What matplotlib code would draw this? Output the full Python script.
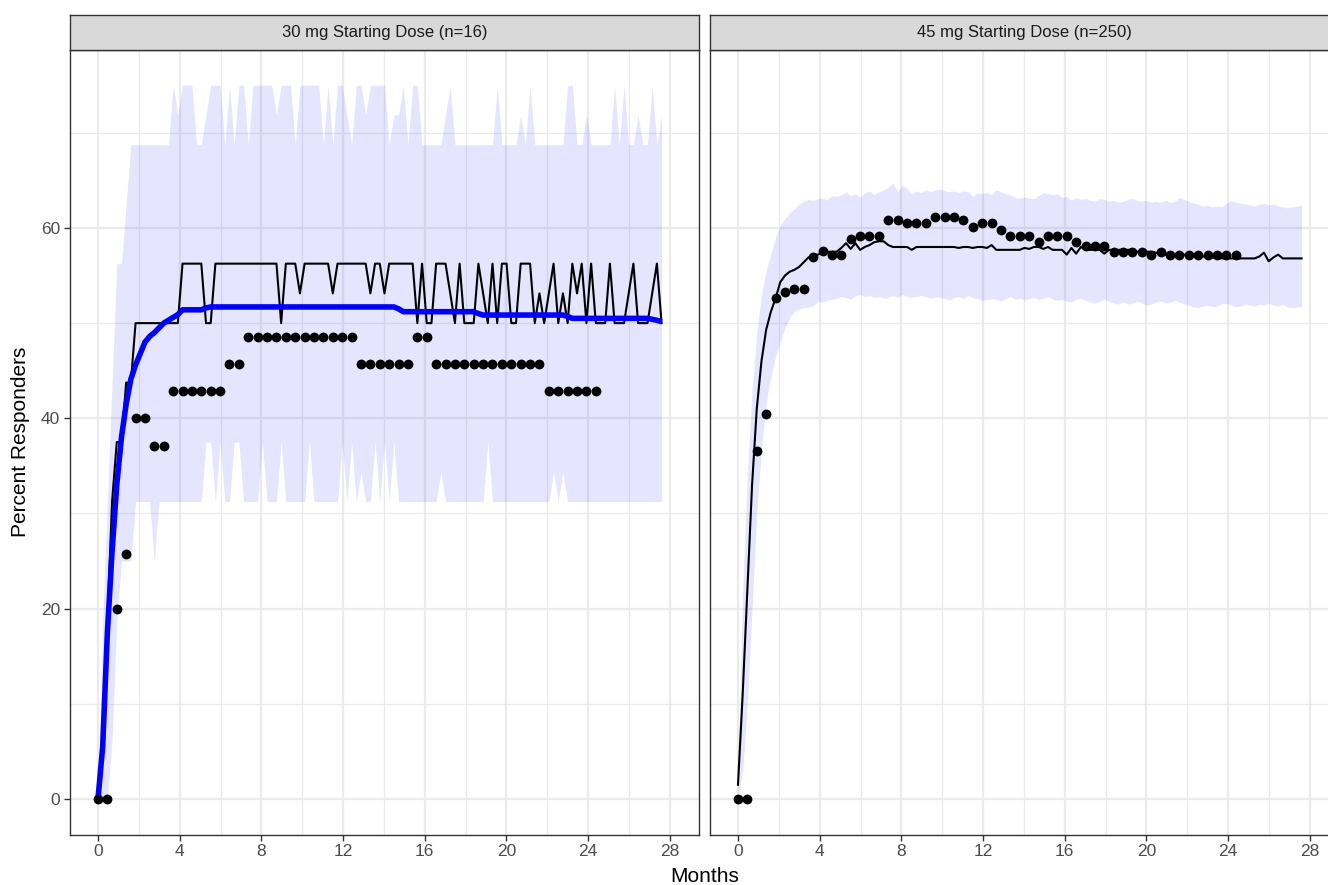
import numpy as np
import matplotlib
matplotlib.use("Agg")
import matplotlib.pyplot as plt
from matplotlib.ticker import MultipleLocator

plt.rcParams['font.family'] = ['Liberation Sans', 'DejaVu Sans']

# ---------------- data ----------------
panel_titles = ["30 mg Starting Dose (n=16)", "45 mg Starting Dose (n=250)"]
x_label = "Months"
y_label = "Percent Responders"
x_ticks = [0, 4, 8, 12, 16, 20, 24, 28]
y_ticks = [0, 20, 40, 60]

# simulation grid (weekly) and observation grid (every 2 weeks), in weeks
sim_weeks = np.arange(0, 121)
obs_weeks = np.arange(0, 107, 2)
days_per_month = 30.4375

left_median = [
    0, 6.25, 18.75, 31.25, 37.5, 37.5, 43.75, 43.75, 50, 50,
    50, 50, 50, 50, 50, 50, 50, 50, 56.25, 56.25,
    56.25, 56.25, 56.25, 50, 50, 56.25, 56.25, 56.25, 56.25, 56.25,
    56.25, 56.25, 56.25, 56.25, 56.25, 56.25, 56.25, 56.25, 56.25, 50,
    56.25, 56.25, 56.25, 53.125, 56.25, 56.25, 56.25, 56.25, 56.25, 56.25,
    53.125, 56.25, 56.25, 56.25, 56.25, 56.25, 56.25, 56.25, 53.125, 56.25,
    56.25, 53.125, 56.25, 56.25, 56.25, 56.25, 56.25, 56.25, 50, 56.25,
    50, 50, 56.25, 56.25, 56.25, 53.125, 50, 56.25, 50, 50,
    50, 56.25, 53.125, 50, 56.25, 50, 56.25, 56.25, 50, 50,
    56.25, 56.25, 56.25, 50, 53.125, 50, 53.125, 56.25, 50, 53.125,
    50, 56.25, 53.125, 56.25, 50, 56.25, 50, 50, 50, 56.25,
    50, 50, 50, 53.125, 56.25, 50, 50, 50, 53.125, 56.25, 50]

left_upper = [
    0, 18.75, 31.25, 43.75, 56.25, 56.25, 62.5, 68.75, 68.75, 68.75,
    68.75, 68.75, 68.75, 68.75, 68.75, 68.75, 75, 71.875, 75, 75,
    75, 68.75, 68.75, 71.875, 75, 75, 75, 68.75, 75, 68.75,
    75, 75, 68.75, 75, 75, 75, 75, 75, 71.875, 75,
    75, 75, 68.75, 75, 75, 75, 75, 75, 68.75, 75,
    68.75, 75, 75, 71.875, 68.75, 75, 75, 71.875, 75, 75,
    75, 75, 68.75, 71.875, 71.875, 75, 68.75, 75, 75, 68.75,
    68.75, 68.75, 68.75, 68.75, 71.875, 75, 68.75, 68.75, 68.75, 68.75,
    68.75, 68.75, 68.75, 68.75, 68.75, 75, 68.75, 68.75, 68.75, 68.75,
    71.875, 68.75, 75, 68.75, 68.75, 68.75, 68.75, 68.75, 68.75, 68.75,
    75, 75, 68.75, 68.75, 71.875, 68.75, 68.75, 68.75, 68.75, 68.75,
    75, 68.75, 75, 68.75, 68.75, 71.875, 68.75, 68.75, 75, 68.75, 71.875]

left_lower = [
    0, 0, 0, 6.25, 18.75, 25, 25, 25, 31.25, 31.25,
    31.25, 31.25, 25, 31.25, 31.25, 31.25, 31.25, 31.25, 31.25, 31.25,
    31.25, 31.25, 31.25, 37.5, 37.5, 31.25, 37.5, 31.25, 31.25, 37.5,
    37.5, 31.25, 31.25, 31.25, 31.25, 37.5, 31.25, 31.25, 31.25, 37.5,
    31.25, 31.25, 31.25, 31.25, 31.25, 37.5, 31.25, 31.25, 31.25, 31.25,
    31.25, 31.25, 37.5, 31.25, 37.5, 31.25, 34.375, 31.25, 31.25, 37.5,
    31.25, 37.5, 31.25, 37.5, 31.25, 31.25, 31.25, 31.25, 31.25, 31.25,
    31.25, 31.25, 31.25, 34.375, 31.25, 31.25, 31.25, 31.25, 31.25, 31.25,
    31.25, 31.25, 31.25, 37.5, 31.25, 31.25, 31.25, 31.25, 31.25, 31.25,
    31.25, 31.25, 31.25, 31.25, 31.25, 31.25, 31.25, 34.375, 31.25, 34.375,
    31.25, 31.25, 31.25, 31.25, 31.25, 31.25, 31.25, 31.25, 31.25, 31.25,
    31.25, 31.25, 31.25, 31.25, 31.25, 31.25, 31.25, 31.25, 31.25, 31.25, 31.25]

left_mean = [
    0, 5.5, 17.5, 26, 33, 38, 41.5, 44.1, 45.6, 46.8,
    48.0, 48.6, 49.0, 49.5, 50.0, 50.3, 50.6, 50.9, 51.4, 51.4,
    51.4, 51.4, 51.4, 51.6, 51.7, 51.7, 51.7, 51.7, 51.7, 51.7,
    51.7, 51.7, 51.7, 51.7, 51.7, 51.7, 51.7, 51.7, 51.7, 51.7,
    51.7, 51.7, 51.7, 51.7, 51.7, 51.7, 51.7, 51.7, 51.7, 51.7,
    51.7, 51.7, 51.7, 51.7, 51.7, 51.7, 51.7, 51.7, 51.7, 51.7,
    51.7, 51.7, 51.7, 51.7, 51.5, 51.2, 51.2, 51.2, 51.2, 51.2,
    51.2, 51.2, 51.2, 51.2, 51.2, 51.2, 51.2, 51.2, 51.2, 51.2,
    51.2, 51.0, 50.85, 50.85, 50.85, 50.85, 50.85, 50.85, 50.85, 50.85,
    50.85, 50.85, 50.85, 50.85, 50.85, 50.85, 50.85, 50.85, 50.85, 50.85,
    50.7, 50.5, 50.5, 50.5, 50.5, 50.5, 50.5, 50.5, 50.5, 50.5,
    50.5, 50.5, 50.5, 50.5, 50.5, 50.5, 50.5, 50.5, 50.4, 50.3, 50.15]

left_observed = [
    0, 0, 20.0, 25.71, 40.0, 40.0, 37.14, 37.14,
    42.86, 42.86, 42.86, 42.86, 42.86, 42.86,
    45.71, 45.71,
    48.57, 48.57, 48.57, 48.57, 48.57, 48.57, 48.57, 48.57, 48.57, 48.57, 48.57, 48.57,
    45.71, 45.71, 45.71, 45.71, 45.71, 45.71,
    48.57, 48.57,
    45.71, 45.71, 45.71, 45.71, 45.71, 45.71, 45.71, 45.71, 45.71, 45.71, 45.71, 45.71,
    42.86, 42.86, 42.86, 42.86, 42.86, 42.86]

right_median = [
    1.5, 11, 22, 33, 41, 46, 49.3, 51.2, 52.6, 54.3,
    55.0, 55.4, 55.6, 55.9, 56.4, 56.9, 57.1, 57.2, 57.4, 57.5,
    57.5, 57.5, 57.9, 58.4, 57.8, 58.4, 57.7, 58.0, 58.2, 58.5,
    58.6, 58.6, 58.2, 58.0, 58.0, 58.0, 58.0, 57.7, 58.0, 58.0,
    58.0, 58.0, 58.0, 58.0, 58.0, 58.0, 58.0, 57.9, 58.0, 58.0,
    57.9, 58.0, 58.0, 57.9, 58.2, 57.7, 57.7, 57.7, 57.7, 57.7,
    57.7, 57.9, 57.8, 58.0, 58.0, 57.8, 58.0, 57.7, 57.7, 57.7,
    57.2, 57.9, 57.3, 58.0, 57.7, 57.7, 57.7, 57.7, 57.3, 57.7,
    57.7, 57.7, 57.7, 57.7, 57.7, 57.5, 57.5, 57.5, 57.5, 57.4,
    57.3, 57.2, 57.2, 57.2, 57.2, 57.2, 57.2, 57.2, 57.1, 57.0,
    57.0, 56.9, 56.8, 56.8, 56.8, 56.8, 56.8, 56.8, 56.8, 56.8,
    56.8, 57.0, 57.4, 56.5, 56.9, 57.2, 56.8, 56.8, 56.8, 56.8, 56.8]

right_upper = [
    3, 22, 34, 43, 49, 53, 55.5, 57.3, 59.0, 60.3,
    61.0, 61.6, 62.0, 62.5, 62.8, 63.0, 62.9, 63.1, 63.1, 63.0,
    63.4, 63.3, 63.5, 63.8, 63.4, 63.6, 63.2, 63.7, 63.9, 63.5,
    63.8, 64.0, 64.3, 64.7, 63.8, 64.5, 64.1, 63.6, 63.9, 63.7,
    64.0, 63.8, 64.0, 64.1, 63.9, 63.8, 63.9, 63.7, 63.9, 63.8,
    63.3, 63.7, 63.6, 63.8, 63.5, 64.0, 63.8, 63.6, 63.5, 63.2,
    63.1, 63.3, 63.1, 63.1, 63.4, 63.7, 63.6, 63.5, 63.6, 63.2,
    63.3, 62.9, 63.2, 63.0, 63.1, 62.9, 62.8, 63.1, 63.0, 62.8,
    62.9, 62.7, 62.8, 63.0, 63.1, 62.9, 62.8, 62.9, 62.7, 62.8,
    62.7, 62.9, 62.7, 62.8, 63.2, 63.0, 62.8, 62.6, 62.5, 62.3,
    62.4, 62.2, 62.3, 62.2, 62.6, 62.9, 62.7, 62.6, 62.5, 62.4,
    62.3, 62.5, 62.6, 62.4, 62.5, 62.3, 62.2, 62.1, 62.2, 62.3, 62.4]

right_lower = [
    0, 3, 10, 20, 30, 37, 41.5, 44.5, 46.5, 48.0,
    49.5, 50.6, 51.2, 51.5, 51.6, 51.7, 51.8, 52.3, 52.2, 52.4,
    52.5, 52.6, 52.8, 52.7, 52.5, 52.9, 53.0, 52.8, 52.9, 52.7,
    52.8, 52.6, 52.7, 52.9, 52.7, 53.0, 52.8, 52.7, 52.8, 52.9,
    52.8, 52.6, 52.8, 52.7, 52.6, 52.4, 52.7, 52.8, 52.6, 52.9,
    52.7, 52.6, 52.4, 52.5, 52.6, 52.5, 52.3, 52.6, 52.8, 52.5,
    52.6, 52.4, 52.6, 52.7, 52.5, 52.6, 52.8, 52.5, 52.4, 52.5,
    52.3, 52.2, 52.5, 52.6, 52.4, 52.2, 52.1, 52.3, 52.5, 52.3,
    52.1, 52.0, 52.2, 52.0, 52.1, 52.3, 52.1, 51.9, 52.0, 52.2,
    52.3, 52.1, 52.2, 52.4, 52.2, 52.0, 51.9, 51.7, 51.6, 51.8,
    51.9, 51.7, 51.8, 52.0, 52.1, 51.9, 51.7, 51.8, 52.0, 51.9,
    51.8, 52.0, 51.9, 52.1, 51.9, 51.8, 52.0, 51.7, 51.6, 51.7, 51.7]

right_observed = [
    0, 0, 36.6, 40.5, 52.6, 53.3, 53.6, 53.6, 56.9, 57.6,
    57.2, 57.2, 58.8, 59.2, 59.2, 59.2, 60.8, 60.8, 60.5, 60.5,
    60.5, 61.2, 61.2, 61.2, 60.8, 60.1, 60.5, 60.5, 59.8, 59.2,
    59.2, 59.2, 58.5, 59.2, 59.2, 59.2, 58.5, 58.1, 58.1, 58.1,
    57.5, 57.5, 57.5, 57.5, 57.2, 57.5, 57.2, 57.2, 57.2, 57.2,
    57.2, 57.2, 57.2, 57.2]

for arr in (left_median, left_upper, left_lower, left_mean,
            right_median, right_upper, right_lower):
    assert len(arr) == len(sim_weeks), len(arr)
assert len(left_observed) == len(obs_weeks)
assert len(right_observed) == len(obs_weeks)

sim_months = sim_weeks * 7 / days_per_month
obs_months = obs_weeks * 7 / days_per_month

# ---------------- figure ----------------
W, H = 1328, 885
fig = plt.figure(figsize=(W / 100, H / 100), dpi=100)


def px_axes(x0, y0, x1, y1):
    return fig.add_axes([x0 / W, 1 - y1 / H, (x1 - x0) / W, (y1 - y0) / H])


panel_top, panel_bot = 49.5, 834.7
strip_top = 15
panels_x = [(70, 699), (710, 1339)]

panel_data = [
    dict(med=left_median, up=left_upper, lo=left_lower, mean=left_mean, obs=left_observed),
    dict(med=right_median, up=right_upper, lo=right_lower, mean=None, obs=right_observed),
]

for i, ((x0, x1), d) in enumerate(zip(panels_x, panel_data)):
    ax = px_axes(x0, panel_top, x1, panel_bot)
    ax.set_facecolor('white')
    ax.set_xlim(-1.37, 29.43)
    ax.set_ylim(-3.75, 78.75)
    ax.xaxis.set_major_locator(MultipleLocator(4))
    ax.xaxis.set_minor_locator(MultipleLocator(2))
    ax.yaxis.set_major_locator(MultipleLocator(20))
    ax.yaxis.set_minor_locator(MultipleLocator(10))
    ax.set_xticks(x_ticks)
    ax.set_yticks(y_ticks)
    ax.grid(which='major', color='#EBEBEB', linewidth=1.6, zorder=0)
    ax.grid(which='minor', color='#EBEBEB', linewidth=0.9, zorder=0)
    ax.set_axisbelow(True)
    for s in ax.spines.values():
        s.set_color('#333333')
        s.set_linewidth(1.0)
    ax.tick_params(which='major', length=4, width=1.0, color='#333333',
                   labelcolor='#4D4D4D', labelsize=12.5, pad=3)
    ax.tick_params(which='minor', length=0)
    if i == 1:
        ax.tick_params(axis='y', which='both', left=False, labelleft=False)

    ax.fill_between(sim_months, d['lo'], d['up'], color='blue', alpha=0.1,
                    linewidth=0, zorder=1)
    ax.plot(sim_months, d['med'], color='black', linewidth=1.5, zorder=2)
    if d['mean'] is not None:
        ax.plot(sim_months, d['mean'], color='blue', linewidth=4.0, zorder=3,
                solid_capstyle='butt')
    ax.scatter(obs_months, d['obs'], s=50, color='black', zorder=4,
               linewidths=0)

    sax = px_axes(x0, strip_top, x1, panel_top)
    sax.set_facecolor('#D9D9D9')
    sax.set_xticks([])
    sax.set_yticks([])
    for s in sax.spines.values():
        s.set_color('#333333')
        s.set_linewidth(1.0)
    sax.text(0.5, 0.5, panel_titles[i], ha='center', va='center',
             fontsize=12, color='#1A1A1A', transform=sax.transAxes)

fig.text(704.5 / W, 1 - 882 / H, x_label, ha='center', va='baseline',
         fontsize=15, color='black')
fig.text(21 / W, 1 - 442 / H, y_label, ha='center', va='center',
         rotation=90, fontsize=15, color='black')

fig.savefig('out.png', dpi=100)
